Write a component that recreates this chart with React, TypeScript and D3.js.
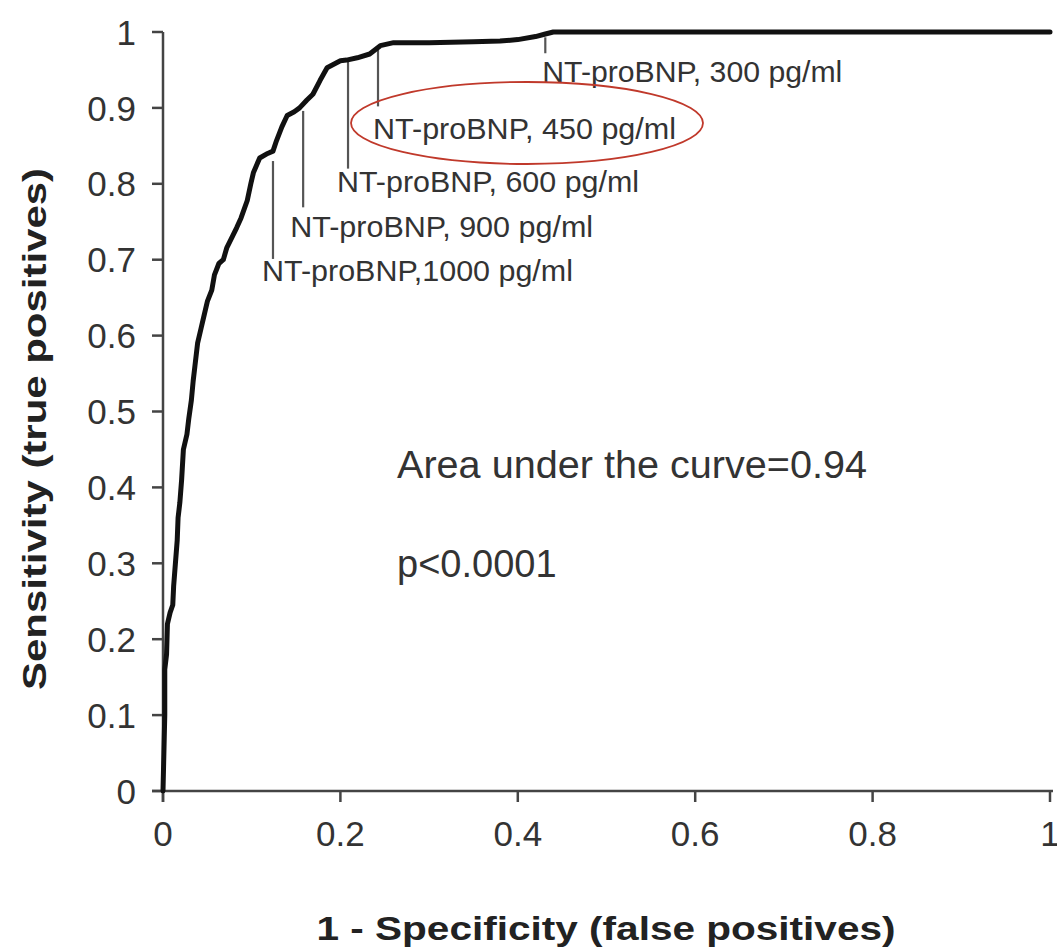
import React from "react";
import * as d3 from "d3";

// ROC curve points (1 - specificity, sensitivity)
const fpr = [0, 0.001, 0.002, 0.002, 0.004, 0.005, 0.008, 0.011, 0.012, 0.014, 0.016, 0.017, 0.019, 0.021, 0.023, 0.027, 0.029, 0.032, 0.034, 0.036, 0.039, 0.043, 0.046, 0.05, 0.055, 0.058, 0.063, 0.068, 0.072, 0.078, 0.083, 0.088, 0.095, 0.099, 0.102, 0.109, 0.118, 0.124, 0.128, 0.134, 0.14, 0.148, 0.154, 0.162, 0.169, 0.177, 0.185, 0.2, 0.207, 0.219, 0.233, 0.245, 0.26, 0.3, 0.35, 0.38, 0.4, 0.42, 0.43, 0.44, 0.5, 1];
const tpr = [0, 0.05, 0.1, 0.16, 0.18, 0.22, 0.235, 0.245, 0.27, 0.3, 0.33, 0.36, 0.38, 0.41, 0.45, 0.47, 0.49, 0.515, 0.54, 0.56, 0.59, 0.61, 0.625, 0.645, 0.66, 0.68, 0.695, 0.7, 0.716, 0.73, 0.742, 0.755, 0.778, 0.8, 0.815, 0.834, 0.84, 0.843, 0.857, 0.875, 0.89, 0.895, 0.9, 0.91, 0.918, 0.936, 0.953, 0.962, 0.963, 0.966, 0.971, 0.982, 0.986, 0.986, 0.987, 0.988, 0.99, 0.994, 0.997, 1.0, 1, 1];

// Cut-off annotations
const cutLabels = ["NT-proBNP, 300 pg/ml", "NT-proBNP, 450 pg/ml", "NT-proBNP, 600 pg/ml", "NT-proBNP, 900 pg/ml", "NT-proBNP,1000 pg/ml"];
const cutFpr = [0.431, 0.2424, 0.2086, 0.158, 0.124];
const cutTprTop = [0.993, 0.977, 0.965, 0.896, 0.83];
const cutTprBottom = [0.972, 0.902, 0.82, 0.769, 0.701];

const xTicks = [0, 0.2, 0.4, 0.6, 0.8, 1];
const yTicks = [0, 0.1, 0.2, 0.3, 0.4, 0.5, 0.6, 0.7, 0.8, 0.9, 1];

const aucText = "Area under the curve=0.94";
const pText = "p<0.0001";

// layout
const W = 1057, H = 950;
const X0 = 163, X1 = 1050, Y0 = 791, Y1 = 32;
// text positions for annotations (dx from line, baseline y)
const labelDx = [-3, -5, -11, -13, -11];
const labelBase = [82, 139, 192, 237, 281];
const labelLen = [300, 303, 302, 303, 311];

export default function App() {
  const x = d3.scaleLinear().domain([0, 1]).range([X0, X1]);
  const y = d3.scaleLinear().domain([0, 1]).range([Y0, Y1]);
  const pts: [number, number][] = fpr.map((f, i) => [f, tpr[i]]);
  const line = d3.line<[number, number]>().x((d) => x(d[0])).y((d) => y(d[1]));
  const font = "'Liberation Sans', Arial, sans-serif";
  const axisColor = "#444";
  const textColor = "#333";
  return (
    <svg width={W} height={H} style={{ position: "absolute", left: 0, top: 0, background: "#fff" }} fontFamily={font}>
      {/* axes */}
      <line x1={X0} x2={X0} y1={Y1} y2={Y0 + 11} stroke={axisColor} strokeWidth={2.5} />
      <line x1={X0 - 11} x2={X1 + 3} y1={Y0} y2={Y0} stroke={axisColor} strokeWidth={2.5} />
      {yTicks.map((t) => (
        <g key={"y" + t}>
          <line x1={X0 - 11} x2={X0} y1={y(t)} y2={y(t)} stroke={axisColor} strokeWidth={2.5} />
          <text x={136} y={y(t)} dy="0.36em" textAnchor="end" fontSize={35} fill={textColor}>
            {String(t)}
          </text>
        </g>
      ))}
      {xTicks.map((t) => (
        <g key={"x" + t}>
          <line x1={x(t)} x2={x(t)} y1={Y0} y2={Y0 + 11} stroke={axisColor} strokeWidth={2.5} />
          <text x={x(t)} y={846} textAnchor="middle" fontSize={35} fill={textColor}>
            {String(t)}
          </text>
        </g>
      ))}
      {/* axis titles */}
      <text x={606} y={940} textAnchor="middle" fontSize={33} fontWeight="bold" fill="#222" textLength={579} lengthAdjust="spacingAndGlyphs">
        1 - Specificity (false positives)
      </text>
      <text transform="translate(46,429) rotate(-90)" textAnchor="middle" fontSize={34} fontWeight="bold" fill="#222" textLength={522} lengthAdjust="spacingAndGlyphs">
        Sensitivity (true positives)
      </text>
      {/* leader lines and labels */}
      {cutLabels.map((lab, i) => (
        <g key={lab}>
          <line x1={x(cutFpr[i])} x2={x(cutFpr[i])} y1={y(cutTprTop[i])} y2={y(cutTprBottom[i])} stroke="#555" strokeWidth={2.2} />
          <text x={x(cutFpr[i]) + labelDx[i]} y={labelBase[i]} fontSize={29} fill={textColor} textLength={labelLen[i]} lengthAdjust="spacingAndGlyphs">
            {lab}
          </text>
        </g>
      ))}
      {/* ROC curve */}
      <path d={line(pts) || ""} fill="none" stroke="#111" strokeWidth={5} strokeLinejoin="round" strokeLinecap="round" />
      {/* stats */}
      <text x={397} y={478} fontSize={38} fill={textColor} textLength={470} lengthAdjust="spacingAndGlyphs">
        {aucText}
      </text>
      <text x={397} y={577} fontSize={38} fill={textColor}>
        {pText}
      </text>
      {/* highlight ellipse */}
      <ellipse cx={527} cy={123} rx={176} ry={41} fill="none" stroke="#c0392b" strokeWidth={1.8} />
    </svg>
  );
}
